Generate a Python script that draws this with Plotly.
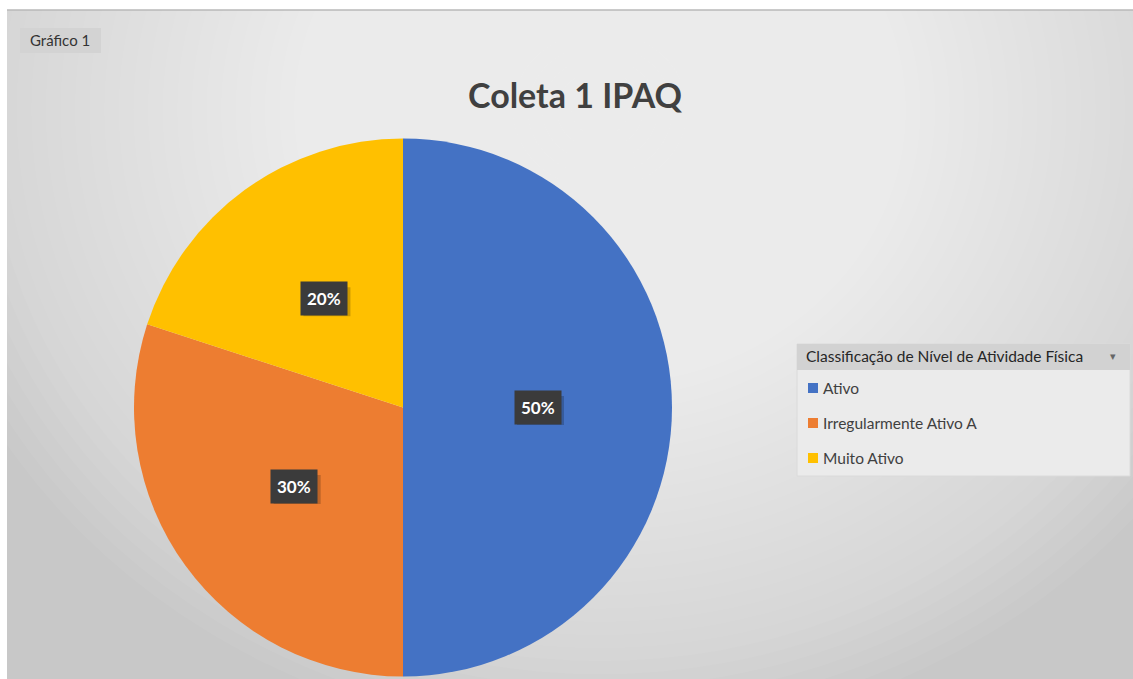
import math
import plotly.graph_objects as go

labels = ["Ativo", "Irregularmente Ativo A", "Muito Ativo"]
values = [50, 30, 20]
colors = ["#4472C4", "#ED7D31", "#FFC000"]
title_text = "Coleta 1 IPAQ"
legend_title = "Classificação de Nível de Atividade Física"
tag_text = "Gráfico 1"

W, H = 1133, 679
FONT = "Lato"


def px(x):
    return x / W


def py(y):
    return 1 - y / H


fig = go.Figure()

# pie domain (pixels)
pl, pr, pt, pb = 134, 672, 138, 677
fig.add_trace(go.Pie(
    labels=labels, values=values, sort=False, direction="clockwise", rotation=0,
    marker=dict(colors=colors, line=dict(width=0)),
    textinfo="none", hoverinfo="label+percent", showlegend=False,
    domain=dict(x=[px(pl), px(pr)], y=[py(pb), py(pt)]),
))

annotations = []
shapes = []

# background radial gradient approximation
gcx, gcy = 600, 110
N = 48
Rmax = 700
alpha = 1 - (5 / 55) ** (1 / N)
for k in range(N):
    r = Rmax * (N - k) / N
    shapes.append(dict(
        type="circle", xref="paper", yref="paper", layer="below",
        x0=px(gcx - r), x1=px(gcx + r), y0=py(gcy + r * 0.9), y1=py(gcy - r * 0.9),
        fillcolor=f"rgba(255,255,255,{alpha:.4f})", line=dict(width=0),
    ))
# white strips and border line
shapes.append(dict(type="rect", xref="paper", yref="paper", layer="below",
                   x0=0, x1=1, y0=py(10), y1=1, fillcolor="white", line=dict(width=0)))
shapes.append(dict(type="rect", xref="paper", yref="paper", layer="below",
                   x0=0, x1=px(7), y0=0, y1=1, fillcolor="white", line=dict(width=0)))
shapes.append(dict(type="line", xref="paper", yref="paper", layer="below",
                   x0=px(7), x1=1, y0=py(10), y1=py(10), line=dict(color="#b8b8b8", width=1.5)))

# percentage labels at half radius, mid-angle of each slice
total = sum(values)
cx, cy = (pl + pr) / 2, (pt + pb) / 2
R = (pr - pl) / 2
cum = 0
bw, bh = 47, 29  # label box size (for the drop shadow)
for v in values:
    mid = (cum + v / 2) / total * 2 * math.pi
    cum += v
    ax = cx + 0.5 * R * math.sin(mid)
    ay = cy - 0.5 * R * math.cos(mid)
    txt = f"<b>{round(v / total * 100)}%</b>"
    shapes.append(dict(
        type="rect", xref="paper", yref="paper", layer="above",
        x0=px(ax - bw / 2 + 3), x1=px(ax + bw / 2 + 3),
        y0=py(ay + bh / 2 + 3), y1=py(ay - bh / 2 + 3),
        fillcolor="rgba(0,0,0,0.2)", line=dict(width=0),
    ))
    annotations.append(dict(
        x=px(ax), y=py(ay), xref="paper", yref="paper", showarrow=False,
        text=txt, font=dict(family=FONT, size=17, color="white"),
        bgcolor="#3b3b3b", borderpad=6, xanchor="center", yanchor="middle",
    ))

annotations.append(dict(
    x=px(575), y=py(95), xref="paper", yref="paper", showarrow=False,
    text=f"<b>{title_text}</b>", font=dict(family=FONT, size=34, color="#404040"),
    xanchor="center", yanchor="middle",
))
shapes.append(dict(type="rect", xref="paper", yref="paper", layer="above",
                   x0=px(20), x1=px(101), y0=py(53), y1=py(28),
                   fillcolor="#d3d3d3", line=dict(width=0)))
annotations.append(dict(
    x=px(28), y=py(40), xref="paper", yref="paper", showarrow=False,
    text=tag_text, font=dict(family=FONT, size=15, color="#333333"),
    xanchor="left", yanchor="middle",
))

# legend (drawn as a box, header band, colour squares and labels)
lx0, lx1, ly0, ly1 = 797, 1130, 344, 476
shapes.append(dict(type="rect", xref="paper", yref="paper", layer="above",
                   x0=px(lx0), x1=px(lx1), y0=py(ly1), y1=py(ly0),
                   fillcolor="#ebebeb", line=dict(color="#dadada", width=1)))
shapes.append(dict(type="rect", xref="paper", yref="paper", layer="above",
                   x0=px(lx0), x1=px(lx1), y0=py(370), y1=py(ly0),
                   fillcolor="#d2d2d2", line=dict(width=0)))
annotations.append(dict(
    x=px(804), y=py(356), xref="paper", yref="paper", showarrow=False,
    text=legend_title, font=dict(family=FONT, size=15.5, color="#262626"),
    xanchor="left", yanchor="middle",
))
annotations.append(dict(
    x=px(1113), y=py(355), xref="paper", yref="paper", showarrow=False,
    text="▾", font=dict(family=FONT, size=11, color="#666666"),
    xanchor="center", yanchor="middle",
))
for i, (lab, col) in enumerate(zip(labels, colors)):
    yc = 388 + 35 * i
    shapes.append(dict(type="rect", xref="paper", yref="paper", layer="above",
                       x0=px(808), x1=px(818), y0=py(yc + 5), y1=py(yc - 5),
                       fillcolor=col, line=dict(width=0)))
    annotations.append(dict(
        x=px(821), y=py(yc), xref="paper", yref="paper", showarrow=False,
        text=lab, font=dict(family=FONT, size=15.5, color="#404040"),
        xanchor="left", yanchor="middle",
    ))

fig.update_layout(
    width=W, height=H,
    margin=dict(l=0, r=0, t=0, b=0),
    paper_bgcolor="#c8c8c8", plot_bgcolor="rgba(0,0,0,0)",
    showlegend=False,
    annotations=annotations, shapes=shapes,
)

fig.write_html("out.html")
